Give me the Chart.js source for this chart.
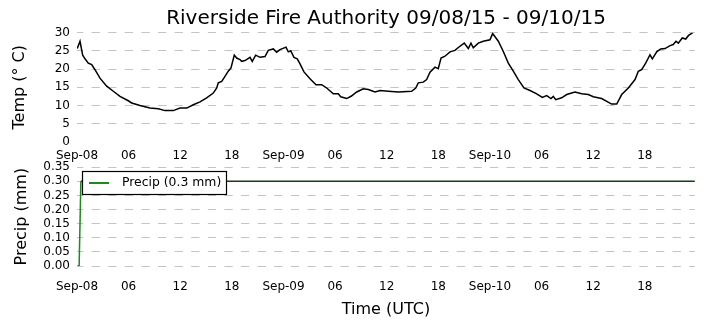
<!DOCTYPE html>
<html><head><meta charset="utf-8">
<script src="https://cdn.jsdelivr.net/npm/chart.js@4.4.0/dist/chart.umd.min.js"></script>
<style>
html,body{margin:0;padding:0;background:#fff;}
#wrap{position:relative;width:705px;height:328px;overflow:hidden;}
#c1{position:absolute;left:0;top:0;}
#c2{position:absolute;left:0;top:153px;}
</style></head><body>
<div id="wrap"><canvas id="c1" width="705" height="162"></canvas><canvas id="c2" width="705" height="175"></canvas></div>
<script>
const titleText = 'Riverside Fire Authority 09/08/15 - 09/10/15';
const xTickHours = [0,6,12,18,24,30,36,42,48,54,60,66];
const xTickLabels = ['Sep-08','06','12','18','Sep-09','06','12','18','Sep-10','06','12','18'];
const xMax = 71.83;
const tempTicks = [0,5,10,15,20,25,30];
const precipTicks = [0,0.05,0.10,0.15,0.20,0.25,0.30,0.35];
const tempHours = [0.03,0.35,0.66,0.93,1.31,1.71,2.09,2.67,3.45,4.22,5.0,5.96,6.36,7.32,8.48,9.45,10.23,11.19,11.97,12.75,13.52,14.3,15.07,15.84,16.24,16.42,16.82,17.2,17.58,17.9,18.28,18.56,18.94,19.14,19.53,20.11,20.37,20.77,21.27,21.85,22.23,22.82,23.21,23.59,24.29,24.56,24.84,25.22,25.6,25.92,26.38,27.08,27.78,28.44,29.02,29.79,30.37,30.65,31.35,31.9,32.51,33.28,33.86,34.64,35.22,36.18,37.34,38.9,39.37,39.67,40.25,40.64,41.03,41.61,41.99,42.31,42.77,43.35,43.93,44.32,45.01,45.48,45.79,46.06,46.64,47.22,48.0,48.31,48.97,49.55,50.13,50.71,51.29,51.95,52.65,53.43,54.08,54.59,55.09,55.36,55.64,56.33,56.92,57.88,58.66,59.43,60.01,60.98,62.14,62.73,63.31,64.08,64.86,65.24,65.63,66.1,66.6,66.87,67.38,67.84,68.35,68.93,69.3,69.62,69.89,70.35,70.75,71.08,71.55];
const tempValues = [25.6,27.6,23.8,22.8,21.6,21.2,19.8,17.5,15.3,13.9,12.5,11.3,10.7,10.0,9.3,9.1,8.6,8.6,9.3,9.3,10.2,11.0,12.1,13.4,14.8,16.2,16.6,18.0,19.4,20.3,23.8,23.0,22.6,22.1,22.3,23.2,22.1,23.8,23.2,23.4,25.1,25.5,24.6,25.3,26.0,24.7,25.0,23.2,22.8,21.4,19.2,17.3,15.7,15.7,14.8,13.2,13.2,12.4,11.9,12.6,13.7,14.6,14.4,13.7,14.1,13.9,13.7,13.9,14.8,16.2,16.4,17.1,19.1,20.5,20.1,23.0,23.5,24.7,25.1,25.9,27.1,25.6,27.1,25.8,27.1,27.6,28.0,29.7,27.6,24.8,21.6,19.4,17.1,14.8,14.1,13.2,12.2,12.7,11.9,12.5,11.6,12.1,13.0,13.7,13.2,13.0,12.4,11.9,10.4,10.4,13.0,14.8,17.1,19.4,19.8,21.6,23.9,22.8,24.7,25.5,25.6,26.4,26.7,27.6,27.1,28.5,28.2,29.2,29.9];
const precipHours = [0.05, 0.25, 0.45, 71.8];
const precipValues = [0, 0, 0.3, 0.3];
const precipLabel = 'Precip (0.3 mm)';

const FONT = '"DejaVu Sans", "Liberation Sans", sans-serif';
const gridGray = '#c4c4c4';
const greenLine = '#1c8a1c';
const darkGreen = '#123f12';

function xScale(extra) {
  return Object.assign({
    type: 'linear', min: 0, max: xMax,
    border: {display: false},
    grid: {display: false, drawTicks: false},
    ticks: {
      font: {family: FONT, size: 12}, color: '#000', padding: 6.5,
      maxRotation: 0, autoSkip: false,
      callback: v => xTickLabels[xTickHours.indexOf(v)]
    },
    afterBuildTicks: s => { s.ticks = xTickHours.map(v => ({value: v})); }
  }, extra);
}

const boxLegend = {
  id: 'boxLegend',
  afterDatasetsDraw(chart) {
    const ds = chart.data.datasets[0];
    const ctx = chart.ctx, a = chart.chartArea;
    ctx.save();
    ctx.font = '12.4px ' + FONT;
    const tw = ctx.measureText(ds.label).width;
    const x0 = Math.round(a.left + 5), y0 = Math.round(a.top + 4), h = 23;
    const w = Math.round(7 + 20 + 13 + tw + 5);
    ctx.fillStyle = '#fff'; ctx.fillRect(x0, y0, w, h);
    ctx.strokeStyle = '#000'; ctx.lineWidth = 1.2;
    ctx.strokeRect(x0 + 0.5, y0 + 0.5, w, h);
    const cy = y0 + h / 2 + 0.5;
    ctx.strokeStyle = greenLine; ctx.lineWidth = 2;
    ctx.beginPath(); ctx.moveTo(x0 + 7, cy); ctx.lineTo(x0 + 27, cy); ctx.stroke();
    ctx.fillStyle = '#000'; ctx.textBaseline = 'middle'; ctx.textAlign = 'left';
    ctx.fillText(ds.label, x0 + 40, cy);
    ctx.restore();
  }
};

new Chart(document.getElementById('c1'), {
  type: 'line',
  data: {datasets: [{
    label: 'Temp',
    data: tempHours.map((h, i) => ({x: h, y: tempValues[i]})),
    borderColor: '#000', borderWidth: 1.5, pointRadius: 0, tension: 0, fill: false
  }]},
  options: {
    responsive: false, animation: false, devicePixelRatio: 1,
    layout: {padding: {left: 6, right: 10, top: 0, bottom: 0}},
    plugins: {
      legend: {display: false}, tooltip: {enabled: false},
      title: {display: true, text: titleText, fullSize: false, color: '#000',
        font: {family: FONT, size: 20, weight: 'normal'}, padding: {top: 7, bottom: 1.5}}
    },
    scales: {
      x: xScale({afterFit: s => { s.height = 20; }}),
      y: {
        min: 0, max: 30,
        border: {display: false, dash: [8.3, 8.3], dashOffset: 2},
        grid: {drawTicks: false, lineWidth: 1, color: c => c.tick && c.tick.value === 0 ? 'rgba(0,0,0,0)' : gridGray},
        ticks: {font: {family: FONT, size: 12}, color: '#000', padding: 7, autoSkip: false, callback: v => String(v)},
        afterBuildTicks: s => { s.ticks = tempTicks.map(v => ({value: v})); },
        title: {display: true, text: 'Temp (° C)', color: '#000', font: {family: FONT, size: 16}, padding: {top: 4, bottom: 4}},
        afterFit: s => { s.width = 71; }
      }
    }
  }
});

new Chart(document.getElementById('c2'), {
  type: 'line',
  data: {datasets: [{
    label: precipLabel,
    data: precipHours.map((h, i) => ({x: h, y: precipValues[i]})),
    borderColor: greenLine, borderWidth: 1.5, pointRadius: 0, tension: 0, fill: false,
    segment: {borderColor: c => c.p0.parsed.y === c.p1.parsed.y ? darkGreen : greenLine}
  }]},
  options: {
    responsive: false, animation: false, devicePixelRatio: 1,
    layout: {padding: {left: 8, right: 10, top: 11, bottom: 4.4}},
    plugins: {legend: {display: false}, tooltip: {enabled: false}},
    scales: {
      x: xScale({
        ticks: {
          font: {family: FONT, size: 12}, color: '#000', padding: 14,
          maxRotation: 0, autoSkip: false,
          callback: v => xTickLabels[xTickHours.indexOf(v)]
        },
        title: {display: true, text: 'Time (UTC)', color: '#000', font: {family: FONT, size: 16}, padding: {top: 4, bottom: 4}},
        afterFit: s => { s.height = 57.6; }
      }),
      y: {
        min: 0, max: 0.35,
        border: {display: false, dash: [8.3, 8.3], dashOffset: 2},
        grid: {drawTicks: false, lineWidth: 1, color: gridGray},
        ticks: {font: {family: FONT, size: 12}, color: '#000', padding: 7, autoSkip: false, callback: v => v.toFixed(2)},
        afterBuildTicks: s => { s.ticks = precipTicks.map(v => ({value: v})); },
        title: {display: true, text: 'Precip (mm)', color: '#000', font: {family: FONT, size: 16}, padding: {top: 4, bottom: 4}},
        afterFit: s => { s.width = 69; }
      }
    }
  },
  plugins: [boxLegend]
});
</script>
</body></html>
